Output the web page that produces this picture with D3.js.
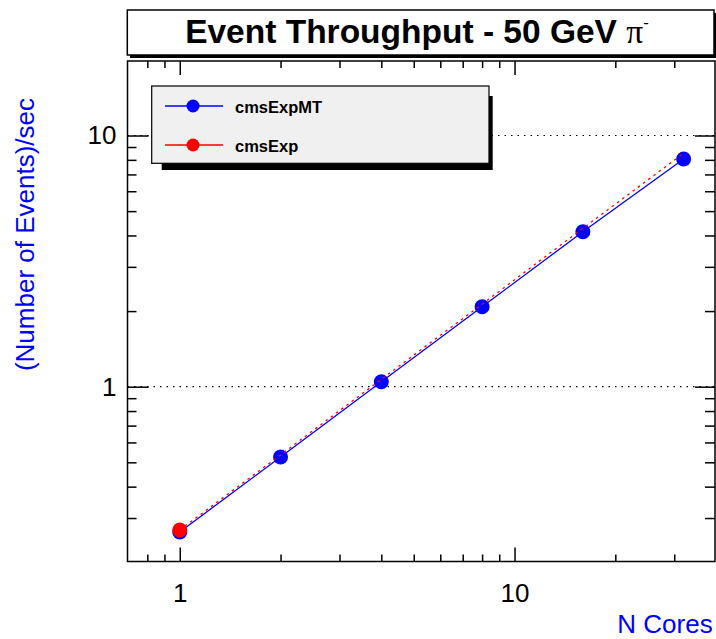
<!DOCTYPE html>
<html>
<head>
<meta charset="utf-8">
<script src="https://cdn.jsdelivr.net/npm/d3@7"></script>
<style>
  body { margin: 0; background: #fff; }
  svg { display: block; }
  text { font-family: "Liberation Sans", Arial, Helvetica, sans-serif; }
</style>
</head>
<body>
<svg width="716" height="639"></svg>
<script>
// data
var cores = [1, 2, 4, 8, 16, 32];
var mtRate = [0.264, 0.525, 1.047, 2.08, 4.14, 8.06];      // cmsExpMT
var expCores = [1];                                       // cmsExp measured point
var expRate = [0.269];
var expLine = [0.269, 0.535, 1.07, 2.13, 4.27, 8.5];      // red dashed line
var xMajor = [1, 10];
var xMinor = [0.8, 0.9, 2, 3, 4, 5, 6, 7, 8, 9, 20, 30];
var yMajor = [1, 10];
var yMinor = [0.3, 0.4, 0.5, 0.6, 0.7, 0.8, 0.9, 2, 3, 4, 5, 6, 7, 8, 9];
var legendNames = ["cmsExpMT", "cmsExp"];
var legendColors = ["#0000ff", "#ff0000"];

var svg = d3.select("svg");
// frame edges (window.top is reserved, so prefix them)
var fLeft = 127.5, fRight = 715, fTop = 61, fBottom = 561.5;

var x = d3.scaleLog().domain([0.698, 39.7]).range([fLeft, fRight]);
var y = d3.scaleLog().domain([0.2014, 19.8]).range([fBottom, fTop]);

// title box with shadow
svg.append("path")
  .attr("d", "M130,55 L130,58 L717,58 L717,13 L714,13 L714,55 Z")
  .attr("fill", "#000");
svg.append("rect")
  .attr("x", 127.3).attr("y", 10).attr("width", 586.7).attr("height", 45)
  .attr("fill", "#fff").attr("stroke", "#000").attr("stroke-width", 1.5);
var title = svg.append("text")
  .attr("x", 417).attr("y", 43)
  .attr("text-anchor", "middle")
  .attr("font-size", 33.5).attr("font-weight", "bold")
  .text("Event Throughput - 50 GeV ");
title.append("tspan")
  .attr("font-family", "'Liberation Serif', 'DejaVu Serif', serif")
  .attr("font-weight", "normal")
  .text("\u03c0");
title.append("tspan")
  .attr("font-size", 17).attr("dy", -15)
  .attr("font-weight", "normal")
  .text("-");

// grid lines at major y ticks
svg.append("g").selectAll("line")
  .data(yMajor).enter().append("line")
  .attr("x1", fLeft).attr("x2", fRight)
  .attr("y1", d => y(d)).attr("y2", d => y(d))
  .attr("stroke", "#000").attr("stroke-width", 1.2)
  .attr("stroke-dasharray", "1.5,5");

// axes (ticks pointing inward on all four sides)
function clean(g) {
  g.select(".domain").remove();
  g.selectAll(".tick line").attr("stroke", "#000").attr("stroke-width", 1.5);
}
svg.append("g").attr("transform", "translate(0," + fBottom + ")")
  .call(d3.axisBottom(x).tickValues(xMajor).tickSizeInner(-14).tickSizeOuter(0)
    .tickPadding(22).tickFormat(d3.format("d")))
  .call(clean)
  .selectAll("text").attr("font-size", 26).attr("fill", "#000")
  .attr("font-family", "'Liberation Sans', Arial, sans-serif");
svg.append("g").attr("transform", "translate(0," + fBottom + ")")
  .call(d3.axisBottom(x).tickValues(xMinor).tickSizeInner(-7).tickSizeOuter(0).tickFormat(""))
  .call(clean);
svg.append("g").attr("transform", "translate(0," + fTop + ")")
  .call(d3.axisBottom(x).tickValues(xMajor).tickSizeInner(14).tickSizeOuter(0).tickFormat(""))
  .call(clean);
svg.append("g").attr("transform", "translate(0," + fTop + ")")
  .call(d3.axisBottom(x).tickValues(xMinor).tickSizeInner(7).tickSizeOuter(0).tickFormat(""))
  .call(clean);

svg.append("g").attr("transform", "translate(" + fLeft + ",0)")
  .call(d3.axisLeft(y).tickValues(yMajor).tickSizeInner(-21).tickSizeOuter(0)
    .tickPadding(11).tickFormat(d3.format("d")))
  .call(clean)
  .selectAll("text").attr("font-size", 26).attr("fill", "#000")
  .attr("font-family", "'Liberation Sans', Arial, sans-serif");
svg.append("g").attr("transform", "translate(" + fLeft + ",0)")
  .call(d3.axisLeft(y).tickValues(yMinor).tickSizeInner(-9).tickSizeOuter(0).tickFormat(""))
  .call(clean);
svg.append("g").attr("transform", "translate(" + fRight + ",0)")
  .call(d3.axisLeft(y).tickValues(yMajor).tickSizeInner(20).tickSizeOuter(0).tickFormat(""))
  .call(clean);
svg.append("g").attr("transform", "translate(" + fRight + ",0)")
  .call(d3.axisLeft(y).tickValues(yMinor).tickSizeInner(10).tickSizeOuter(0).tickFormat(""))
  .call(clean);

// frame
svg.append("rect")
  .attr("x", fLeft).attr("y", fTop).attr("width", fRight - fLeft).attr("height", fBottom - fTop)
  .attr("fill", "none").attr("stroke", "#000").attr("stroke-width", 1.5);

// axis titles
svg.append("text")
  .attr("transform", "translate(34,98) rotate(-90)")
  .attr("text-anchor", "end")
  .attr("font-size", 26).attr("fill", "#0000ff")
  .text("(Number of Events)/sec");
svg.append("text")
  .attr("x", 712.7).attr("y", 633.3)
  .attr("text-anchor", "end")
  .attr("font-size", 26).attr("fill", "#0000ff")
  .text("N Cores");

// cmsExpMT line + markers
var line = d3.line().x(d => x(d[0])).y(d => y(d[1]));
svg.append("path")
  .attr("d", line(d3.zip(cores, mtRate)))
  .attr("fill", "none").attr("stroke", "#0000ff").attr("stroke-width", 1.3);
svg.append("g").selectAll("circle")
  .data(d3.zip(cores, mtRate)).enter().append("circle")
  .attr("cx", d => x(d[0])).attr("cy", d => y(d[1])).attr("r", 7.5)
  .attr("fill", "#0000ff");

// cmsExp dashed line + marker
svg.append("path")
  .attr("d", line(d3.zip(cores, expLine)))
  .attr("fill", "none").attr("stroke", "#ff0000").attr("stroke-width", 1.3)
  .attr("stroke-dasharray", "2.5,4");
svg.append("g").selectAll("circle")
  .data(d3.zip(expCores, expRate)).enter().append("circle")
  .attr("cx", d => x(d[0])).attr("cy", d => y(d[1])).attr("r", 7.5)
  .attr("fill", "#ff0000");

// legend
var lx = 151.7, ly = 86, lw = 337.3, lh = 77.3;
svg.append("path")
  .attr("d", "M" + (lx + 10) + "," + (ly + lh) + " L" + (lx + 10) + "," + (ly + lh + 6.7) +
    " L" + (lx + lw + 3.7) + "," + (ly + lh + 6.7) + " L" + (lx + lw + 3.7) + "," + (ly + 10) +
    " L" + (lx + lw) + "," + (ly + 10) + " L" + (lx + lw) + "," + (ly + lh) + " Z")
  .attr("fill", "#000");
svg.append("rect")
  .attr("x", lx).attr("y", ly).attr("width", lw).attr("height", lh)
  .attr("fill", "#f0f0f0").attr("stroke", "#000").attr("stroke-width", 1.2);

var entry = svg.append("g").selectAll("g")
  .data(legendNames).enter().append("g")
  .attr("transform", (d, i) => "translate(0," + (106 + i * 39) + ")");
entry.append("line")
  .attr("x1", 165).attr("x2", 223)
  .attr("stroke", (d, i) => legendColors[i]).attr("stroke-width", 1.3);
entry.append("circle")
  .attr("cx", 193).attr("r", 6.5)
  .attr("fill", (d, i) => legendColors[i]);
entry.append("text")
  .attr("x", 235).attr("y", 6.5)
  .attr("font-size", 16.5).attr("font-weight", "bold")
  .text(d => d);
</script>
</body>
</html>
